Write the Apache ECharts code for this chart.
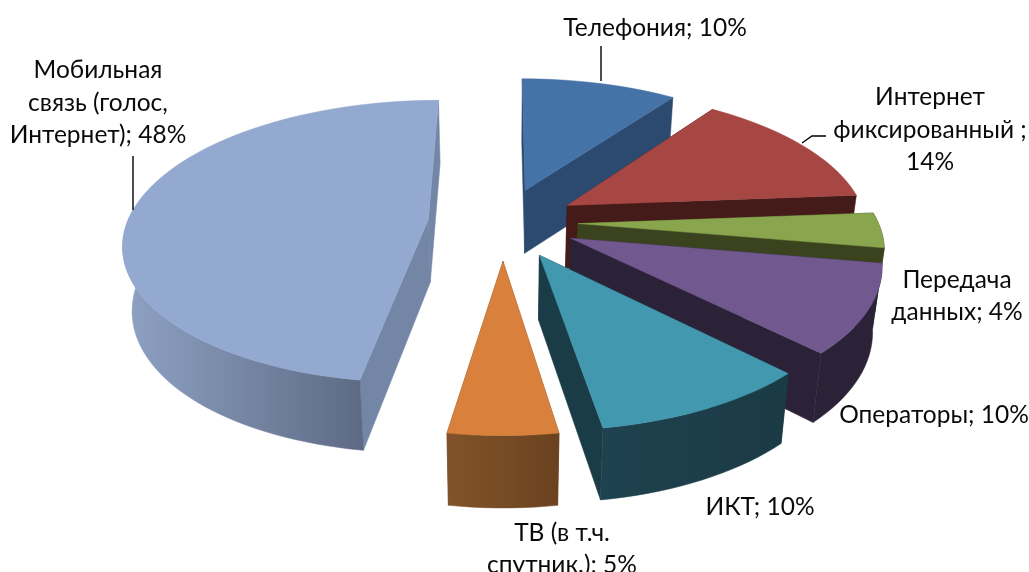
<!DOCTYPE html>
<html><head><meta charset="utf-8">
<style>html,body{margin:0;padding:0;background:#fff}#c{width:1029px;height:572px}</style>
<script src="https://cdn.jsdelivr.net/npm/echarts@6/dist/echarts.min.js"></script>
</head><body><div id="c"></div>
<script>
const categories = ['Телефония','Интернет фиксированный','Передача данных','Операторы','ИКТ','ТВ (в т.ч. спутник.)','Мобильная связь (голос, Интернет)'];
const shareValues = [10,14,4,10,10,5,48];
const topColors = ['#4572A7','#A64744','#89A54E','#71588F','#4198AF','#D9813C','#93A9CF'];
const sideColors = [['#2C4A70','#2C4A70'],['#451B19','#451B19'],['#3A421E','#3A421E'],['#2C2238','#2C2238'],['#1F4250','#1A3A44'],['#82532A','#6A421F'],['#8FA2C4','#5D6A84']];
const edgeColors = ['#2C4A70','#451B19','#3A421E','#2C2238','#1A3C46','#6A421F','#7486A6'];
const labelLines = [['Телефония; 10%'],['Интернет','фиксированный ;','14%'],['Передача','данных; 4%'],['Операторы; 10%'],['ИКТ; 10%'],['ТВ (в т.ч.','спутник.); 5%'],['Мобильная','связь (голос,','Интернет); 48%']];
const labelCentres = [[655,28],[930,130],[957,296],[934,415],[760,507],[562,549],[98,103]];
const leaderPaths = [[[601,46],[601,81]],[[826,136],[812,136],[802,143]],[[133,156],[133,210]]];
const sliceRadii = [300,300,300,300,297,292,301];
const sliceExplode = [75,75,75,75,78,82,75];
const pie = {cx:503,cy:222,k:0.46,q:0.00052,floorScale:0.975};
const total = shareValues.reduce((a,b)=>a+b,0);
const rad = d=>d*Math.PI/180;
function project(X,Y){const w=1+pie.q*Y;const sx=X/w,sy=-pie.k*Y/w;const h=Y>0?63:63-0.025*Y;
  return {top:[pie.cx+sx,pie.cy+sy],bot:[pie.cx+sx*pie.floorScale,pie.cy+sy+h]};}
function renderSlice(params,api){
  const i=params.dataIndex;
  let a0=0;for(let j=0;j<i;j++)a0+=shareValues[j];
  const t0=rad(a0/total*360),t1=rad((a0+api.value(1))/total*360),mid=(t0+t1)/2;
  const e=sliceExplode[i],ex=e*Math.sin(mid),ey=e*Math.cos(mid),r=sliceRadii[i];
  const n=Math.max(4,Math.ceil((t1-t0)/rad(2)));
  const top=[],wallTop=[],wallBot=[];
  let first=null,last=null;
  for(let q=0;q<=n;q++){
    const t=t0+(t1-t0)*q/n,m=project(ex+r*Math.sin(t),ey+r*Math.cos(t));
    top.push(m.top);
    if(q===0)first=m; if(q===n)last=m;
    if(Math.cos(t)<0.1){wallTop.push(m.top);wallBot.push(m.bot);}
  }
  const c=project(ex,ey);
  const ec=edgeColors[i];
  const grad={type:'linear',x:0,y:0,x2:1,y2:0,colorStops:[{offset:0,color:sideColors[i][0]},{offset:1,color:sideColors[i][1]}]};
  const poly=(pts,fill)=>({type:'polygon',shape:{points:pts},style:{fill:fill,stroke:fill,lineWidth:0.5}});
  const kids=[
    poly([c.top,first.top,first.bot,c.bot],ec),
    poly([c.top,last.top,last.bot,c.bot],ec)
  ];
  if(wallTop.length>1)kids.push(poly(wallTop.concat(wallBot.slice().reverse()),grad));
  kids.push(poly([c.top].concat(top),topColors[i]));
  return {type:'group',children:kids};
}
const chart=echarts.init(document.getElementById('c'),null,{renderer:'canvas'});
const font='Lato, Carlito, "Open Sans", sans-serif';
const textEls=labelLines.map((lines,i)=>({type:'text',x:labelCentres[i][0],y:labelCentres[i][1],z:10,
    style:{text:lines.join('\n'),fill:'#0a0a0a',font:'24.5px '+font,lineHeight:32.5,align:'center',verticalAlign:'middle'}}));
const lineEls=leaderPaths.map(p=>({type:'polyline',z:9,shape:{points:p},style:{stroke:'#000',lineWidth:1.4,fill:null}}));
chart.setOption({
  animation:false,
  backgroundColor:'#fff',
  series:[{type:'custom',coordinateSystem:'none',renderItem:renderSlice,data:shareValues.map((v,i)=>({name:categories[i],value:[i,v]}))}],
  graphic:textEls.concat(lineEls)
});
</script></body></html>
